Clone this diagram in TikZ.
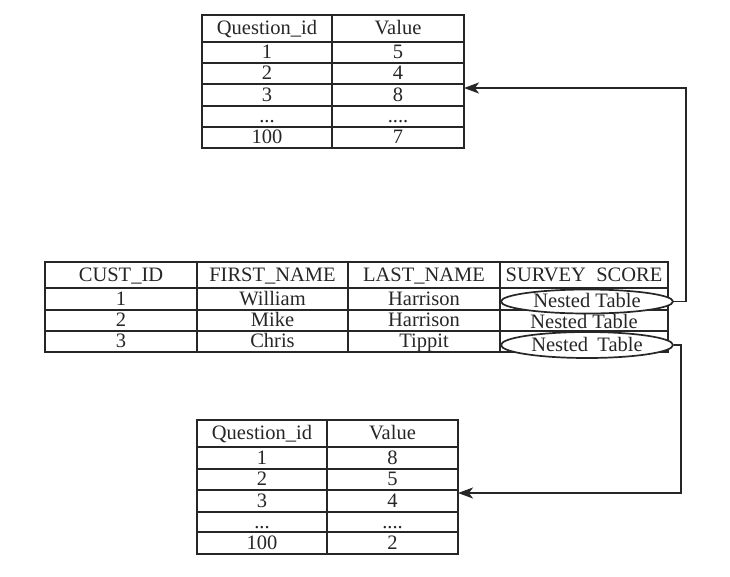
\documentclass[tikz,border=0pt]{standalone}
\usepackage{fontspec}
\setmainfont{Liberation Serif}
\usetikzlibrary{shapes.geometric,arrows.meta}
\tikzset{
  txt/.style={font=\fontsize{20.5}{22}\selectfont, text=black!85, text height=14pt, text depth=2pt},
  cell/.style={txt, draw=black!85, line width=1.5pt, rectangle, inner sep=0pt, outer sep=0pt},
  nested/.style={txt, draw=black!85, line width=1.7pt, ellipse, fill=white, inner sep=0pt, minimum width=172pt},
  link/.style={draw=black!85, line width=1.6pt, -{Stealth[length=15pt,width=11pt,inset=4pt]}}
}
\newcommand\cellnode[6]{\node[cell,minimum width={#4pt-#2pt},minimum height={#5pt-#3pt}] (#1) at ({(#2+#4)/2},{(#3+#5)/2}) {#6};}
\begin{document}
\begin{tikzpicture}[x=1pt,y=-1pt]
\useasboundingbox (0,0) rectangle (730,576);
% top nested table
\cellnode{th1}{202}{15}{332}{42}{Question\_id}
\cellnode{th2}{332}{15}{464}{42}{Value}
\cellnode{ta1}{202}{42}{332}{63}{1}
\cellnode{tb1}{332}{42}{464}{63}{5}
\cellnode{ta2}{202}{63}{332}{84}{2}
\cellnode{tb2}{332}{63}{464}{84}{4}
\cellnode{ta3}{202}{84}{332}{106}{3}
\cellnode{tb3}{332}{84}{464}{106}{8}
\cellnode{ta4}{202}{106}{332}{127}{...}
\cellnode{tb4}{332}{106}{464}{127}{....}
\cellnode{ta5}{202}{127}{332}{148}{100}
\cellnode{tb5}{332}{127}{464}{148}{7}
% main table
\cellnode{mh1}{45}{262}{197}{288}{CUST\_ID}
\cellnode{mh2}{197}{262}{348}{288}{FIRST\_NAME}
\cellnode{mh3}{348}{262}{500}{288}{LAST\_NAME}
\cellnode{mh4}{500}{262}{668}{288}{SURVEY\hspace{0.5em}SCORE}
\cellnode{m11}{45}{288}{197}{310}{1}
\cellnode{m12}{197}{288}{348}{310}{William}
\cellnode{m13}{348}{288}{500}{310}{Harrison}
\cellnode{m14}{500}{288}{668}{310}{}
\cellnode{m21}{45}{310}{197}{331}{2}
\cellnode{m22}{197}{310}{348}{331}{Mike}
\cellnode{m23}{348}{310}{500}{331}{Harrison}
\cellnode{m24}{500}{310}{668}{331}{}
\node[txt, inner sep=0pt] (m24t) at (584,322) {Nested Table};
\cellnode{m31}{45}{331}{197}{352}{3}
\cellnode{m32}{197}{331}{348}{352}{Chris}
\cellnode{m33}{348}{331}{500}{352}{Tippit}
\cellnode{m34}{500}{331}{668}{352}{}
\node[nested, minimum height=24pt] (e1) at (587,301.5) {Nested Table};
\node[nested, minimum height=26pt] (e3) at (587,345) {Nested\hspace{0.45em}Table};
% bottom nested table
\cellnode{bh1}{197}{420}{327}{447}{Question\_id}
\cellnode{bh2}{327}{420}{458}{447}{Value}
\cellnode{ba1}{197}{447}{327}{469}{1}
\cellnode{bb1}{327}{447}{458}{469}{8}
\cellnode{ba2}{197}{469}{327}{490}{2}
\cellnode{bb2}{327}{469}{458}{490}{5}
\cellnode{ba3}{197}{490}{327}{512}{3}
\cellnode{bb3}{327}{490}{458}{512}{4}
\cellnode{ba4}{197}{512}{327}{532}{...}
\cellnode{bb4}{327}{512}{458}{532}{....}
\cellnode{ba5}{197}{532}{327}{554}{100}
\cellnode{bb5}{327}{532}{458}{554}{2}
% connectors
\coordinate (c1) at (686,88);
\coordinate (c2) at (681,493);
\draw[link] (e1.east) -- (e1.east -| c1) -- (c1) -- (c1 -| tb3.east);
\draw[link] (e3.east) -- (e3.east -| c2) -- (c2) -- (c2 -| bb3.east);
\end{tikzpicture}
\end{document}
